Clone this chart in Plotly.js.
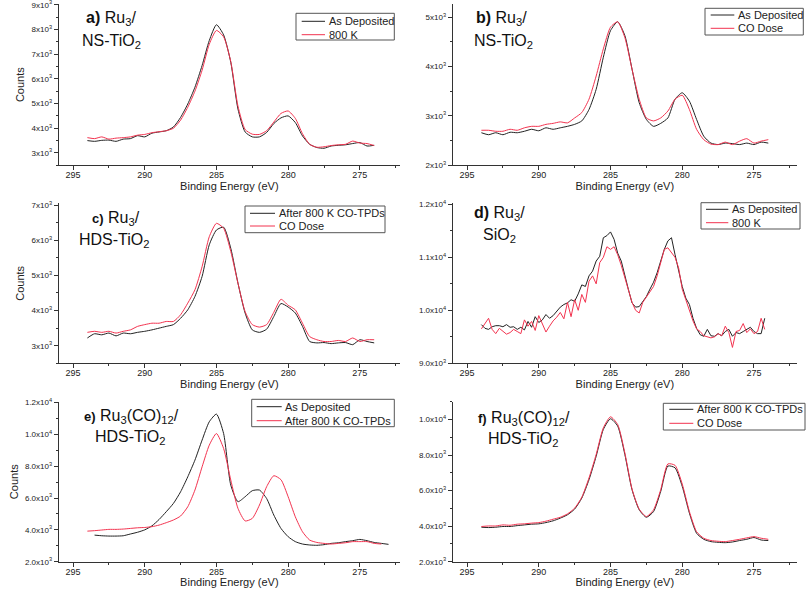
<!DOCTYPE html>
<html><head><meta charset="utf-8">
<script src="https://cdn.plot.ly/plotly-3.0.1.min.js"></script>
<style>html,body{margin:0;padding:0;background:#fff}#chart{width:808px;height:589px}</style>
</head><body><div id="chart"></div>
<script>
// ---------- DATA ----------
const energy = [294,293.5,293,292.5,292,291.5,291,290.5,290,289.5,289,288.5,288,287.5,287,286.5,286,285.5,285,284.5,284,283.5,283,282.5,282,281.5,281,280.5,280,279.5,279,278.5,278,277.5,277,276.5,276,275.5,275,274.5,274];
const energyD = [294,293.75,293.5,293.25,293,292.75,292.5,292.25,292,291.75,291.5,291.25,291,290.75,290.5,290.25,290,289.75,289.5,289.25,289,288.75,288.5,288.25,288,287.75,287.5,287.25,287,286.75,286.5,286.25,286,285.75,285.5,285.25,285,284.75,284.5,284.25,284,283.75,283.5,283.25,283,282.75,282.5,282.25,282,281.75,281.5,281.25,281,280.75,280.5,280.25,280,279.75,279.5,279.25,279,278.75,278.5,278.25,278,277.75,277.5,277.25,277,276.75,276.5,276.25,276,275.75,275.5,275.25,275,274.75,274.5,274.25];
const energyE = [294,293.5,293,292.5,292,291.5,291,290.5,290,289.5,289,288.5,288,287.5,287,286.5,286,285.5,285,284.5,284,283.5,283,282.5,282,281.5,281,280.5,280,279.5,279,278.5,278,277.5,277,276.5,276,275.5,275,274.5,274,273.5,273];

const aAsDeposited = [3500,3470,3510,3520,3470,3560,3580,3700,3650,3800,3850,3900,4050,4440,4980,5660,6540,7550,8190,7780,6670,4780,3850,3650,3650,3830,4190,4420,4500,4230,3690,3350,3220,3190,3280,3310,3330,3380,3420,3280,3310];
const a800K = [3620,3580,3650,3560,3600,3620,3650,3720,3750,3820,3860,3900,4000,4330,4850,5500,6350,7400,7960,7700,6700,4900,3950,3760,3750,3900,4250,4600,4700,4400,3780,3350,3230,3250,3300,3330,3350,3480,3400,3380,3300];

const bAsDeposited = [2660,2620,2660,2620,2670,2660,2690,2730,2700,2760,2730,2760,2790,2830,2900,3130,3540,4190,4730,4910,4630,3950,3270,2930,2790,2850,2960,3340,3470,3300,2930,2590,2450,2420,2450,2440,2420,2450,2420,2470,2450];
const bCODose = [2710,2710,2690,2690,2730,2710,2760,2790,2790,2830,2850,2880,2860,2960,3070,3340,3810,4360,4800,4910,4590,3950,3340,2960,2900,2960,3100,3340,3420,3130,2730,2520,2430,2420,2470,2420,2490,2540,2450,2490,2520];

const cAfterTPD = [3220,3340,3310,3360,3280,3360,3340,3380,3410,3450,3500,3550,3600,3780,4020,4400,4970,5870,6290,6370,5770,4780,3930,3450,3380,3470,3830,4200,4100,3930,3550,3120,3080,3090,3060,3080,3090,3030,3170,3120,3080];
const cCODose = [3380,3410,3380,3410,3360,3410,3450,3550,3600,3640,3640,3690,3690,3880,4210,4590,5250,6100,6480,6340,5680,4780,3970,3600,3530,3600,3950,4320,4150,4020,3640,3260,3170,3120,3120,3150,3120,3220,3120,3170,3170];

const dAsDeposited = [9730,9660,9640,9690, 9710,9710,9690,9730, 9680,9690,9640,9680, 9630,9790,9680,9880, 9770,9820,9920,9850, 9900,9980,10060,10110, 10140,10200,10170,10310, 10480,10450,10650,10740, 10930,11020,11370,11410, 11480,11340,11080,10930, 10640,10390,10140,10060, 10070,10170,10260,10400, 10530,10710,10930,11150, 11310,11370,11050,10770, 10450,10230,10110,9850, 9660,9540,9510,9640, 9520,9510,9560,9520, 9600,9640,9510,9580, 9560,9600,9640,9680, 9600,9560,9560,9850];
const d800K = [9650,9740,9850,9640, 9560,9660,9600,9550, 9580,9640,9600,9560, 9820,9700,9790,9620, 9900,9760,9590,9700, 9800,9870,9960,9840, 10150,9880,10200,10000, 10300,10150,10550,10650, 10500,10900,11000,11200, 11150,11200,11050,10850, 10600,10400,10150,10000, 9950,10150,10250,10350, 10450,10650,10900,11150, 11180,11100,11000,10800, 10400,10200,10000,9800, 9650,9600,9520,9500, 9480,9500,9560,9520, 9700,9580,9300,9600, 9620,9750,9580,9650, 9560,9600,9850,9640];

const eAsDeposited = [null,3670,3630,3610,3610,3630,3740,3850,4000,4250,4650,5140,5660,6390,7330,8380,9640,10790,11270,10050,6810,5770,6080,6460,6500,5970,4930,4090,3570,3260,3110,3050,3030,3070,3150,3190,3260,3320,3400,3320,3210,3150,3090];
const eAfterTPD = [3920,3950,3990,4030,4030,4050,4090,4130,4150,4200,4300,4450,4620,4870,5450,6500,7960,9320,10050,9110,7130,5350,4560,4720,5560,6710,7400,7150,6080,4820,3880,3360,3210,3150,3110,3150,3190,3260,3260,3260,3150,3110,null];

const fAfterTPD = [3940,3920,3940,3980,3980,4030,4070,4110,4130,4200,4300,4450,4640,4960,5580,6610,7930,9440,10040,9630,8030,6050,4920,4500,4820,5950,7380,7280,6240,4730,3600,3260,3130,3090,3070,3110,3190,3260,3360,3220,3190];
const fCODose = [3980,4010,4010,4070,4050,4110,4130,4170,4200,4280,4390,4500,4690,5010,5630,6710,8030,9530,10150,9720,8120,6090,4960,4540,4920,6050,7500,7420,6370,4820,3690,3320,3190,3150,3130,3190,3260,3340,3410,3320,3260];

const namesA = ['As Deposited', '800 K'];
const namesB = ['As Deposited', 'CO Dose'];
const namesC = ['After 800 K CO-TPDs', 'CO Dose'];
const namesD = ['As Deposited', '800 K'];
const namesE = ['As Deposited', 'After 800 K CO-TPDs'];
const namesF = ['After 800 K CO-TPDs', 'CO Dose'];

const ticksA = [3000,4000,5000,6000,7000,8000,9000];
const labelsA = ['3x10<sup>3</sup>','4x10<sup>3</sup>','5x10<sup>3</sup>','6x10<sup>3</sup>','7x10<sup>3</sup>','8x10<sup>3</sup>','9x10<sup>3</sup>'];
const ticksB = [2000,3000,4000,5000];
const labelsB = ['2x10<sup>3</sup>','3x10<sup>3</sup>','4x10<sup>3</sup>','5x10<sup>3</sup>'];
const ticksC = [3000,4000,5000,6000,7000];
const labelsC = ['3x10<sup>3</sup>','4x10<sup>3</sup>','5x10<sup>3</sup>','6x10<sup>3</sup>','7x10<sup>3</sup>'];
const ticksD = [9000,10000,11000,12000];
const labelsD = ['9.0x10<sup>3</sup>','1.0x10<sup>4</sup>','1.1x10<sup>4</sup>','1.2x10<sup>4</sup>'];
const ticksE = [2000,4000,6000,8000,10000,12000];
const labelsE = ['2.0x10<sup>3</sup>','4.0x10<sup>3</sup>','6.0x10<sup>3</sup>','8.0x10<sup>3</sup>','1.0x10<sup>4</sup>','1.2x10<sup>4</sup>'];
const ticksF = [2000,4000,6000,8000,10000];
const labelsF = ['2.0x10<sup>3</sup>','4.0x10<sup>3</sup>','6.0x10<sup>3</sup>','8.0x10<sup>3</sup>','1.0x10<sup>4</sup>'];

const panelTitles = [
  ['<b>a)</b> Ru<sub>3</sub>/', 'NS-TiO<sub>2</sub>'],
  ['<b>b)</b> Ru<sub>3</sub>/', 'NS-TiO<sub>2</sub>'],
  ['<span style="font-size:13px"><b>c)</b></span> Ru<sub>3</sub>/', 'HDS-TiO<sub>2</sub>'],
  ['<b>d)</b> Ru<sub>3</sub>/', 'SiO<sub>2</sub>'],
  ['<span style="font-size:13px"><b>e)</b></span> Ru<sub>3</sub>(CO)<sub>12</sub>/', 'HDS-TiO<sub>2</sub>'],
  ['<span style="font-size:13px"><b>f)</b></span> Ru<sub>3</sub>(CO)<sub>12</sub>/', 'HDS-TiO<sub>2</sub>']
];

// ---------- LAYOUT ----------
const W = 808, H = 589;
const px = v => v / W;
const py = v => 1 - v / H;
const BLACK = '#222222', RED = '#f2334f', AXIS = '#333333';
const FONT = 'Arial, "Liberation Sans", sans-serif';

const panels = [
  {box:[58.7,4,400,165.3], xr:[296,272.2], yr:[2500,9030], tv:ticksA, tt:labelsA, minor:500, counts:true, ser:[[energy,aAsDeposited],[energy,a800K]], names:namesA, shape:'spline',
   leg:{box:[296,13.3,394.3,40], rows:[21.3,34.7], line:[301.7,325], text:326.5}, lab:[[111.3,18.3],[111.8,41.7]]},
  {box:[452.7,4,797,165.3], xr:[296,272], yr:[2000,5270], tv:ticksB, tt:labelsB, minor:500, counts:false, ser:[[energy,bAsDeposited],[energy,bCODose]], names:namesB, shape:'spline',
   leg:{box:[705,8.3,803.3,35], rows:[15,28.3], line:[710.7,734.3], text:735.5}, lab:[[501.3,18.3],[503.3,41.7]]},
  {box:[58.7,203.3,400,363.3], xr:[296,272.2], yr:[2500,7050], tv:ticksC, tt:labelsC, minor:500, counts:true, ser:[[energy,cAfterTPD],[energy,cCODose]], names:namesC, shape:'spline',
   leg:{box:[245,206,385,232.7], rows:[213.3,226], line:[250,275], text:276.5}, lab:[[116,218.3],[114.5,240]]},
  {box:[452.7,203.3,797,363.3], xr:[296,272], yr:[9000,12020], tv:ticksD, tt:labelsD, minor:500, counts:false, ser:[[energyD,dAsDeposited],[energyD,d800K]], names:namesD, shape:'linear',
   leg:{box:[701,202.7,800,229], rows:[209.3,222.7], line:[706,728.3], text:730}, lab:[[499.5,213.3],[499.7,235]]},
  {box:[58.7,401.7,400,561.7], xr:[296,272.2], yr:[2000,12050], tv:ticksE, tt:labelsE, minor:1000, counts:true, ser:[[energyE,eAsDeposited],[energyE,eAfterTPD]], names:namesE, shape:'spline',
   leg:{box:[251.7,399.3,394.3,426.7], rows:[406.7,420.7], line:[256.7,281.7], text:283.3}, lab:[[131.3,416],[130.8,437.7]]},
  {box:[452.7,401.7,797,561.7], xr:[296,272], yr:[2000,11000], tv:ticksF, tt:labelsF, minor:1000, counts:false, ser:[[energy,fAfterTPD],[energy,fCODose]], names:namesF, shape:'spline',
   leg:{box:[663.3,403.3,805,430], rows:[409.3,423.3], line:[669.3,693.3], text:695}, lab:[[524,418.3],[523.3,439.3]]}
];

const traces = [], shapes = [], annotations = [];
const layout = {
  width: W, height: H, margin: {l:0, r:0, t:0, b:0},
  paper_bgcolor: '#ffffff', plot_bgcolor: '#ffffff', showlegend: false,
  font: {family: FONT, color: '#222', size: 11}
};

panels.forEach((p, i) => {
  const n = i === 0 ? '' : String(i + 1);
  const [l, t, r, b] = p.box;
  layout['xaxis' + n] = {
    domain: [px(l), px(r)], anchor: 'y' + n, range: p.xr, autorange: false,
    showline: true, linecolor: AXIS, linewidth: 1, mirror: false,
    ticks: 'outside', ticklen: 4, tickwidth: 1, tickcolor: AXIS, ticklabelstandoff: -3,
    tickmode: 'linear', tick0: 275, dtick: 5,
    minor: {ticks: 'outside', ticklen: 2, tickwidth: 1, tickcolor: AXIS, tickmode: 'linear', tick0: 275, dtick: 2.5},
    showgrid: false, zeroline: false, tickfont: {size: 9, color: '#222', family: FONT},
    title: {text: 'Binding Energy (eV)', font: {size: 11, color: '#222', family: FONT}, standoff: 0}
  };
  layout['yaxis' + n] = {
    domain: [py(b), py(t)], anchor: 'x' + n, range: p.yr, autorange: false,
    showline: true, linecolor: AXIS, linewidth: 1, mirror: false,
    ticks: 'outside', ticklen: 4, tickwidth: 1, tickcolor: AXIS, ticklabeloverflow: 'allow',
    tickmode: 'array', tickvals: p.tv, ticktext: p.tt,
    minor: {ticks: 'outside', ticklen: 2, tickwidth: 1, tickcolor: AXIS, tickmode: 'linear', tick0: 0, dtick: p.minor},
    showgrid: false, zeroline: false, tickfont: {size: 8, color: '#222', family: FONT},
    title: p.counts ? {text: 'Counts', font: {size: 11, color: '#222', family: FONT}, standoff: 4} : {text: ''}
  };
  p.ser.forEach((s, j) => traces.push({
    type: 'scatter', mode: 'lines', x: s[0], y: s[1], name: p.names[j],
    xaxis: 'x' + n, yaxis: 'y' + n, hoverinfo: 'skip', connectgaps: false,
    line: {color: j ? RED : BLACK, width: 1, shape: p.shape, smoothing: 0.6}
  }));
  const L = p.leg;
  shapes.push({type: 'rect', xref: 'paper', yref: 'paper', layer: 'above',
    x0: px(L.box[0]), x1: px(L.box[2]), y0: py(L.box[3]), y1: py(L.box[1]),
    line: {color: '#555', width: 1}, fillcolor: '#ffffff'});
  p.names.forEach((nm, j) => {
    shapes.push({type: 'line', xref: 'paper', yref: 'paper', layer: 'above',
      x0: px(L.line[0]), x1: px(L.line[1]), y0: py(L.rows[j]), y1: py(L.rows[j]),
      line: {color: j ? RED : BLACK, width: 1}});
    annotations.push({xref: 'paper', yref: 'paper', x: px(L.text), y: py(L.rows[j]),
      xanchor: 'left', yanchor: 'middle', text: nm, showarrow: false,
      font: {size: 11, color: '#222', family: FONT}});
  });
  panelTitles[i].forEach((txt, k) => annotations.push({
    xref: 'paper', yref: 'paper', x: px(p.lab[k][0]), y: py(p.lab[k][1]),
    xanchor: 'center', yanchor: 'middle', text: txt, showarrow: false,
    font: {size: 16, color: '#111', family: FONT}
  }));
});

layout.shapes = shapes;
layout.annotations = annotations;

Plotly.newPlot('chart', traces, layout, {displayModeBar: false, staticPlot: true});
</script>
</body></html>
